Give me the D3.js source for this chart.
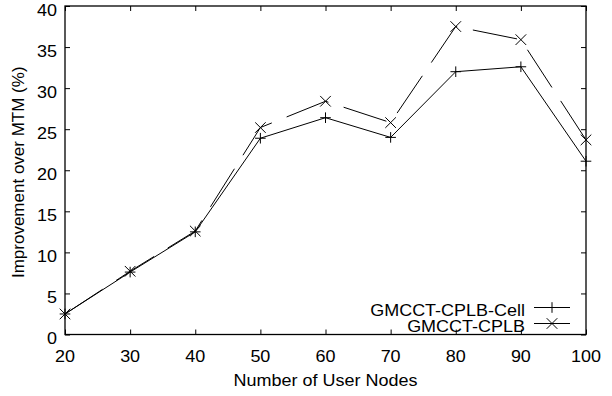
<!DOCTYPE html>
<html>
<head>
<meta charset="utf-8">
<script src="https://cdn.jsdelivr.net/npm/d3@7"></script>
<style>
  html, body { margin: 0; padding: 0; background: #fff; }
  svg { display: block; }
  text { font-family: "Liberation Sans", Arial, Helvetica, sans-serif; fill: #000; }
</style>
</head>
<body>
<svg id="chart" width="612" height="396"></svg>
<script>
// Number of user nodes on the x axis
const nodes = [20, 30, 40, 50, 60, 70, 80, 90, 100];
// Improvement over MTM (%) for each scheme
const cellValues = [2.5, 7.6, 12.5, 23.9, 26.4, 24.0, 32.0, 32.6, 21.1];
const cplbValues = [2.5, 7.7, 12.6, 25.2, 28.4, 25.8, 37.5, 35.9, 23.7];
const seriesNames = ["GMCCT-CPLB-Cell", "GMCCT-CPLB"];
const xTicks = [20, 30, 40, 50, 60, 70, 80, 90, 100];
const yTicks = [0, 5, 10, 15, 20, 25, 30, 35, 40];
const xTitle = "Number of User Nodes";
const yTitle = "Improvement over MTM (%)";

const svg = d3.select("#chart");
const plot = { left: 65, right: 586, top: 6, bottom: 334.5 };
const fontSize = 16.2;
const stretch = 1.11;

const x = d3.scaleLinear().domain([20, 100]).range([plot.left, plot.right]);
const y = d3.scaleLinear().domain([0, 40]).range([plot.bottom, plot.top]);

// Tick marks on all four sides, pointing inward
const tickLen = 5;
const g = svg.append("g");
const bottomAxis = d3.axisBottom(x).tickValues(xTicks).tickSize(-tickLen).tickFormat("");
const topAxis = d3.axisTop(x).tickValues(xTicks).tickSize(-tickLen).tickFormat("");
const leftAxis = d3.axisLeft(y).tickValues(yTicks).tickSize(-tickLen).tickFormat("");
const rightAxis = d3.axisRight(y).tickValues(yTicks).tickSize(-tickLen).tickFormat("");
[[bottomAxis, `translate(0,${plot.bottom})`], [topAxis, `translate(0,${plot.top})`],
 [leftAxis, `translate(${plot.left},0)`], [rightAxis, `translate(${plot.right},0)`]].forEach(([ax, tr]) => {
  const a = g.append("g").attr("transform", tr).call(ax);
  a.select(".domain").remove();
  a.selectAll(".tick line").attr("stroke", "#000").attr("stroke-width", 1);
});

// Frame
g.append("rect")
  .attr("x", plot.left).attr("y", plot.top)
  .attr("width", plot.right - plot.left).attr("height", plot.bottom - plot.top)
  .attr("fill", "none").attr("stroke", "#000").attr("stroke-width", 1.3);

// Horizontally stretched label helper
function label(px, py, txt, anchor) {
  return svg.append("text")
    .attr("transform", `translate(${px},${py}) scale(${stretch},1)`)
    .attr("text-anchor", anchor)
    .style("font-size", fontSize + "px")
    .text(txt);
}

xTicks.forEach(v => label(x(v), 361.5, String(v), "middle"));
yTicks.forEach(v => label(57, y(v) + 9.8, String(v), "end"));
label((plot.left + plot.right) / 2, 385.5, xTitle, "middle");

svg.append("text")
  .attr("transform", `translate(24,${(plot.top + plot.bottom) / 2 + 2}) rotate(-90)`)
  .attr("text-anchor", "middle")
  .style("font-size", "17px")
  .text(yTitle);

// Series lines
const line = d3.line().x((d, i) => x(nodes[i])).y(d => y(d));
svg.append("path").datum(cellValues)
  .attr("d", line).attr("fill", "none").attr("stroke", "#000").attr("stroke-width", 1);
svg.append("path").datum(cplbValues)
  .attr("d", line).attr("fill", "none").attr("stroke", "#000").attr("stroke-width", 1)
  .attr("stroke-dasharray", "45,16");

// Point markers
const m = 5.3;
function plus(sel, cx, cy) {
  sel.append("path").attr("d", `M${cx - m},${cy}H${cx + m}M${cx},${cy - m}V${cy + m}`)
    .attr("stroke", "#000").attr("stroke-width", 1).attr("fill", "none");
}
function cross(sel, cx, cy) {
  sel.append("path").attr("d", `M${cx - m},${cy - m}L${cx + m},${cy + m}M${cx - m},${cy + m}L${cx + m},${cy - m}`)
    .attr("stroke", "#000").attr("stroke-width", 1).attr("fill", "none");
}
const marks = svg.append("g");
cellValues.forEach((v, i) => plus(marks, x(nodes[i]), y(v)));
cplbValues.forEach((v, i) => cross(marks, x(nodes[i]), y(v)));

// Legend
const legend = svg.append("g");
const rows = [{ name: seriesNames[0], ly: 307.5, mark: plus }, { name: seriesNames[1], ly: 323.5, mark: cross }];
rows.forEach(r => {
  label(525, r.ly + 8.5, r.name, "end");
  legend.append("line").attr("x1", 534).attr("x2", 570).attr("y1", r.ly).attr("y2", r.ly)
    .attr("stroke", "#000").attr("stroke-width", 1);
  r.mark(legend, 552, r.ly);
});
</script>
</body>
</html>
